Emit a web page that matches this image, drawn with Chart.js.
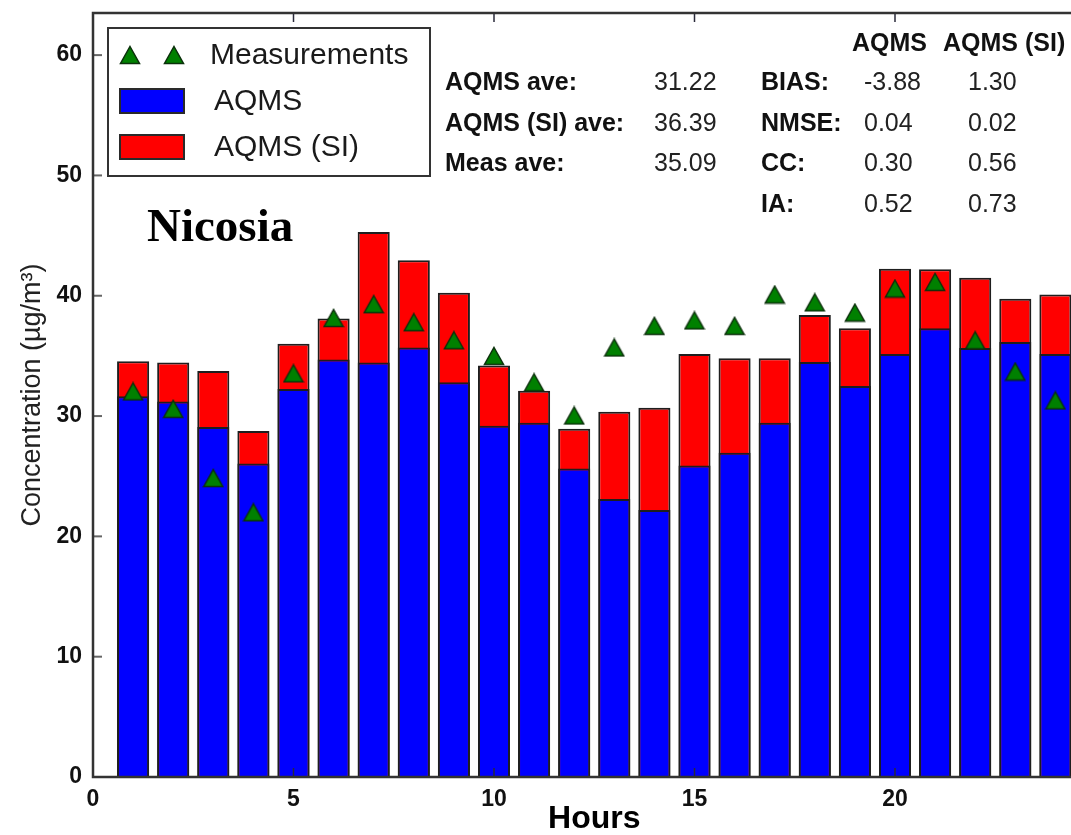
<!DOCTYPE html>
<html>
<head>
<meta charset="utf-8">
<script src="https://cdn.jsdelivr.net/npm/chart.js@4.4.1/dist/chart.umd.min.js"></script>
<style>
  html, body { margin: 0; padding: 0; background: #fff; overflow: hidden; }
  #wrap { width: 1110px; height: 835px; }
</style>
</head>
<body>
<div id="wrap"><canvas id="chart" width="1110" height="835"></canvas></div>
<script>
// hourly values
const hours = [1, 2, 3, 4, 5, 6, 7, 8, 9, 10, 11, 12, 13, 14, 15, 16, 17, 18, 19, 20, 21, 22, 23, 24];
const aqms = [31.65, 31.2, 29.1, 26.05, 32.25, 34.7, 34.45, 35.7, 32.8, 29.2, 29.45, 25.65,
  23.1, 22.2, 25.9, 26.95, 29.45, 34.5, 32.5, 35.15, 37.3, 35.65, 36.15, 35.15];
const aqmsSi = [34.55, 34.45, 33.75, 28.75, 36.0, 38.1, 45.3, 42.95, 40.25, 34.2, 32.1, 28.95,
  30.35, 30.7, 35.15, 34.8, 34.8, 38.4, 37.3, 42.25, 42.2, 41.5, 39.75, 40.1];
const measurements = [32.05, 30.6, 24.85, 22.0, 33.55, 38.15, 39.3, 37.8, 36.3, 35.0, 32.8, 30.05,
  35.7, 37.5, 37.95, 37.5, 40.1, 39.45, 38.6, 40.6, 41.15, 36.3, 33.7, 31.3];

const xTicks = [0, 5, 10, 15, 20, 25];
const yTicks = [0, 10, 20, 30, 40, 50, 60];

// statistics box
const aveLabels = ['AQMS ave:', 'AQMS (SI) ave:', 'Meas ave:'];
const aveValues = ['31.22', '36.39', '35.09'];
const statNames = ['BIAS:', 'NMSE:', 'CC:', 'IA:'];
const statAqms = ['-3.88', '0.04', '0.30', '0.52'];
const statAqmsSi = ['1.30', '0.02', '0.56', '0.73'];

const SANS = "'Liberation Sans', Arial, sans-serif";

// green triangle marker, centred on its box like the original
const tri = document.createElement('canvas');
tri.width = 22;
tri.height = 20;
const tc = tri.getContext('2d');
tc.beginPath();
tc.moveTo(11, 1.5);
tc.lineTo(20.5, 18.5);
tc.lineTo(1.5, 18.5);
tc.closePath();
tc.fillStyle = '#008000';
tc.fill();
tc.lineWidth = 1.5;
tc.strokeStyle = '#0b300b';
tc.stroke();

const pts = (vals) => hours.map((h, i) => ({ x: h, y: vals[i] }));

const framePlugin = {
  id: 'frame',
  afterDatasetsDraw(chart) {
    const { ctx, chartArea: a, scales: { x, y } } = chart;
    ctx.save();
    const line = (x1, y1, x2, y2) => {
      ctx.beginPath(); ctx.moveTo(x1, y1); ctx.lineTo(x2, y2); ctx.stroke();
    };
    // inward ticks
    ctx.strokeStyle = '#2a2a3a';
    ctx.lineWidth = 1.5;
    xTicks.forEach(v => {
      const px = x.getPixelForValue(v);
      line(px, a.bottom, px, a.bottom - 9);
      line(px, a.top, px, a.top + 9);
    });
    ctx.strokeStyle = '#666';
    ctx.lineWidth = 2;
    yTicks.forEach(v => {
      const py = y.getPixelForValue(v);
      line(a.left, py, a.left + 9, py);
      line(a.right, py, a.right - 9, py);
    });
    // axes box
    ctx.strokeStyle = '#333';
    ctx.lineWidth = 2.5;
    ctx.strokeRect(a.left, a.top, a.right - a.left, a.bottom - a.top);
    ctx.restore();
  },
  afterDraw(chart) {
    const { ctx } = chart;
    ctx.save();
    // legend
    ctx.fillStyle = '#fff';
    ctx.fillRect(108, 28, 322, 148);
    ctx.strokeStyle = '#333';
    ctx.lineWidth = 2;
    ctx.strokeRect(108, 28, 322, 148);
    ctx.drawImage(tri, 130 - 11, 55 - 10);
    ctx.drawImage(tri, 174 - 11, 55 - 10);
    ctx.lineWidth = 2;
    ctx.strokeStyle = '#2a2a2a';
    ctx.fillStyle = '#0000ff';
    ctx.fillRect(120, 89, 64, 24);
    ctx.strokeRect(120, 89, 64, 24);
    ctx.fillStyle = '#ff0000';
    ctx.fillRect(120, 135, 64, 24);
    ctx.strokeRect(120, 135, 64, 24);
    ctx.fillStyle = '#1a1a1a';
    ctx.font = '30px ' + SANS;
    ctx.textBaseline = 'middle';
    ctx.textAlign = 'left';
    ctx.fillText('Measurements', 210, 56);
    ctx.fillText('AQMS', 214, 102);
    ctx.fillText('AQMS (SI)', 214, 148);

    // statistics
    const rows = [83, 124, 164, 205];
    ctx.fillStyle = '#111';
    ctx.font = 'bold 25px ' + SANS;
    ctx.fillText('AQMS', 852, 44);
    ctx.fillText('AQMS (SI)', 943, 44);
    aveLabels.forEach((t, i) => ctx.fillText(t, 445, rows[i]));
    statNames.forEach((t, i) => ctx.fillText(t, 761, rows[i]));
    ctx.fillStyle = '#222';
    ctx.font = '25px ' + SANS;
    aveValues.forEach((t, i) => ctx.fillText(t, 654, rows[i]));
    statAqms.forEach((t, i) => ctx.fillText(t, 864, rows[i]));
    statAqmsSi.forEach((t, i) => ctx.fillText(t, 968, rows[i]));

    // station name
    ctx.fillStyle = '#000';
    ctx.font = "bold 47px 'Liberation Serif', 'Times New Roman', serif";
    ctx.textBaseline = 'alphabetic';
    ctx.fillText('Nicosia', 147, 241);
    ctx.restore();
  }
};

const tickFont = { family: SANS, size: 23, weight: 'bold' };

new Chart(document.getElementById('chart'), {
  type: 'bar',
  data: {
    datasets: [
      {
        type: 'scatter',
        label: 'Measurements',
        data: pts(measurements),
        pointStyle: tri,
        pointRadius: 10,
        order: 0
      },
      {
        label: 'AQMS',
        data: pts(aqms),
        backgroundColor: '#0000ff',
        borderColor: '#1e1e1e',
        borderWidth: 2,
        grouped: false,
        barPercentage: 0.8,
        categoryPercentage: 1,
        order: 1
      },
      {
        label: 'AQMS (SI)',
        data: pts(aqmsSi),
        backgroundColor: '#ff0000',
        borderColor: '#1e1e1e',
        borderWidth: 2,
        grouped: false,
        barPercentage: 0.8,
        categoryPercentage: 1,
        order: 2
      }
    ]
  },
  options: {
    responsive: false,
    animation: false,
    layout: { padding: { top: 13, right: 14.5, bottom: 0, left: 0 } },
    plugins: {
      legend: { display: false },
      tooltip: { enabled: false }
    },
    scales: {
      x: {
        type: 'linear',
        min: 0,
        max: 25,
        offset: false,
        grid: { display: false, drawTicks: false, offset: false },
        border: { display: false },
        ticks: { stepSize: 5, padding: 9, color: '#111', font: tickFont, maxRotation: 0 },
        title: {
          display: true,
          text: 'Hours',
          color: '#000',
          padding: 0,
          font: { family: SANS, size: 32, weight: 'bold', lineHeight: 1 }
        },
        afterFit(scale) {
          scale.height = 58;
          scale.paddingLeft = 0;
          scale.paddingRight = 0;
        }
      },
      y: {
        min: 0,
        max: 63.5,
        grid: { display: false, drawTicks: false },
        border: { display: false },
        ticks: { stepSize: 10, includeBounds: false, padding: 11, color: '#111', font: tickFont },
        title: {
          display: true,
          text: 'Concentration (µg/m³)',
          color: '#222',
          padding: { top: 19, bottom: 0 },
          font: { family: SANS, size: 27, lineHeight: 1 }
        },
        afterFit(scale) {
          scale.width = 93;
          scale.paddingTop = 0;
          scale.paddingBottom = 0;
        }
      }
    }
  },
  plugins: [framePlugin]
});
</script>
</body>
</html>
